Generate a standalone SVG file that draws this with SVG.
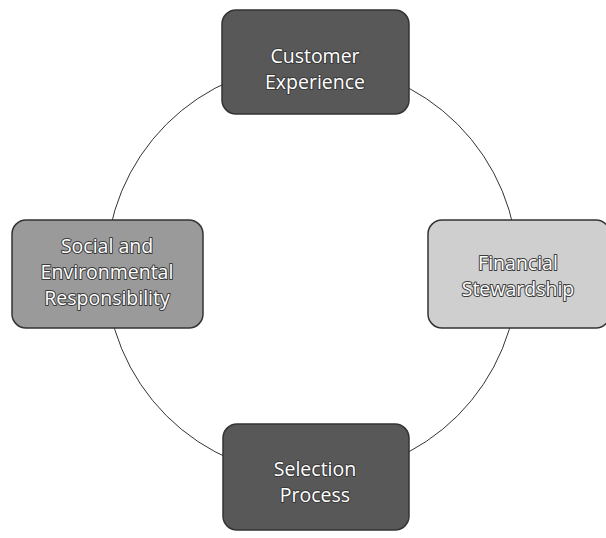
<svg xmlns="http://www.w3.org/2000/svg" width="606" height="538" viewBox="0 0 606 538">
<style>
.box{stroke:#333;stroke-width:1.5}
.t{font-family:"Open Sans","Liberation Sans",sans-serif;font-size:19.5px;fill:#ffffff;stroke:#3a3a3a;stroke-width:2;paint-order:stroke fill;stroke-linejoin:round;text-anchor:middle}
</style>
<rect width="606" height="538" fill="#fff"/>
<g id="connectors">
<circle cx="312" cy="270" r="206" fill="none" stroke="#333" stroke-width="1"/>
</g>
<g id="customer">
<rect class="box" x="222" y="10" width="187" height="104" rx="14" fill="#585858"/>
<text class="t" x="315" y="63">Customer</text>
<text class="t" x="315" y="89">Experience</text>
</g>
<g id="social">
<rect class="box" x="12" y="220" width="191" height="108" rx="14" fill="#9a9a9a"/>
<text class="t" x="107" y="253">Social and</text>
<text class="t" x="107" y="279">Environmental</text>
<text class="t" x="107" y="305">Responsibility</text>
</g>
<g id="financial">
<rect class="box" x="428" y="220" width="182" height="108" rx="14" fill="#cfcfcf" stroke="#777"/>
<text class="t" x="518" y="270">Financial</text>
<text class="t" x="518" y="296">Stewardship</text>
</g>
<g id="selection">
<rect class="box" x="223" y="424" width="186" height="106" rx="14" fill="#585858"/>
<text class="t" x="315" y="476">Selection</text>
<text class="t" x="315" y="502">Process</text>
</g>
</svg>
